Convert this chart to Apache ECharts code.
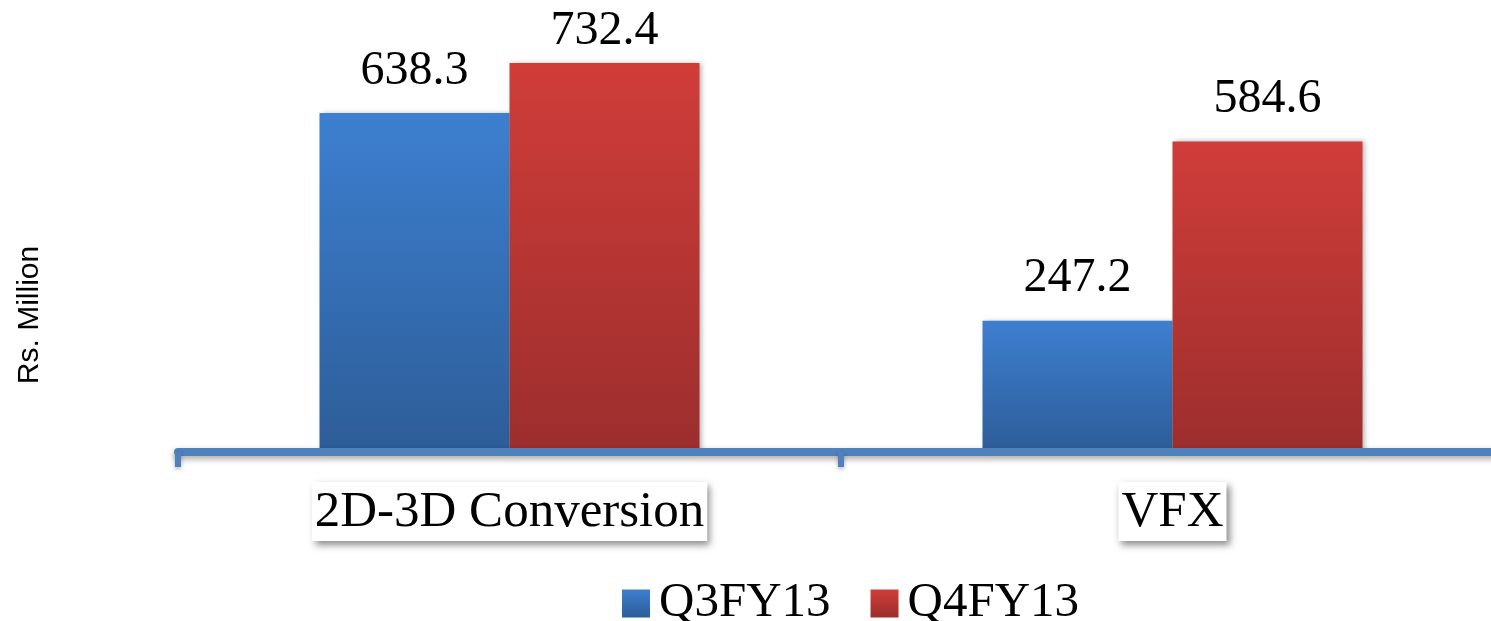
<!DOCTYPE html>
<html>
<head>
<meta charset="utf-8">
<style>
html,body{margin:0;padding:0;background:#fff;overflow:hidden;}
#chart{width:1510px;height:621px;}
</style>
<script src="https://cdn.jsdelivr.net/npm/echarts@6/dist/echarts.min.js"></script>
</head>
<body>
<div id="chart"></div>
<script>
const categories = ['2D-3D Conversion', 'VFX'];
const seriesNames = ['Q3FY13', 'Q4FY13'];
const q3Values = [638.3, 247.2];
const q4Values = [732.4, 584.6];
const yAxisTitle = 'Rs. Million';

const chart = echarts.init(document.getElementById('chart'));
const serif = '"Liberation Serif", "DejaVu Serif", serif';

function grad(top, bottom) {
  return new echarts.graphic.LinearGradient(0, 0, 0, 1, [
    { offset: 0, color: top },
    { offset: 1, color: bottom }
  ]);
}
const blue = grad('#3d7fd0', '#2d5d98');
const red = grad('#d03d39', '#9c2e2d');

function makeData(values, tightFirst) {
  return values.map((v, i) => {
    const d = { value: v };
    if (tightFirst && i === 0) d.label = { distance: 8 };
    return d;
  });
}

const barCommon = {
  type: 'bar',
  barWidth: 190,
  barGap: '0%',
  label: {
    show: true,
    position: 'top',
    distance: 18,
    fontFamily: serif,
    fontSize: 48,
    color: '#000'
  }
};

chart.setOption({
  animation: false,
  backgroundColor: '#ffffff',
  grid: { left: 178, width: 1326, top: 27, bottom: 169, containLabel: false },
  legend: {
    data: seriesNames,
    left: 617,
    top: 574,
    icon: 'rect',
    itemWidth: 28,
    itemHeight: 28,
    itemGap: 40,
    textStyle: { fontFamily: serif, fontSize: 49, color: '#000', padding: [0, 0, 0, 4] }
  },
  xAxis: {
    type: 'category',
    data: categories,
    z: 3,
    axisLine: {
      lineStyle: {
        color: '#4f81bd', width: 8,
        shadowColor: 'rgba(0,0,0,0.35)', shadowBlur: 6, shadowOffsetY: 3
      }
    },
    axisTick: {
      show: true,
      inside: false,
      interval: 0,
      length: 15,
      lineStyle: { color: '#4f81bd', width: 6, shadowColor: 'rgba(0,0,0,0.3)', shadowBlur: 4, shadowOffsetY: 2 }
    },
    axisLabel: {
      margin: 30,
      fontFamily: serif,
      fontSize: 51,
      color: '#000',
      backgroundColor: '#fff',
      padding: [5, 3, 3, 3],
      shadowColor: 'rgba(0,0,0,0.45)',
      shadowBlur: 7,
      shadowOffsetX: 3,
      shadowOffsetY: 4
    }
  },
  yAxis: {
    type: 'value',
    min: 0,
    max: 800,
    show: false,
    splitLine: { show: false }
  },
  graphic: [{
    type: 'text',
    x: 30,
    y: 315,
    rotation: Math.PI / 2,
    style: {
      text: yAxisTitle,
      fontFamily: '"Liberation Sans", Arial, sans-serif',
      fontSize: 30,
      fill: '#000',
      align: 'center',
      verticalAlign: 'middle'
    }
  }],
  series: [
    Object.assign({}, barCommon, {
      name: seriesNames[0],
      data: makeData(q3Values, false),
      itemStyle: { color: blue, shadowColor: 'rgba(0,0,0,0.3)', shadowBlur: 5, shadowOffsetX: 2 }
    }),
    Object.assign({}, barCommon, {
      name: seriesNames[1],
      data: makeData(q4Values, true),
      itemStyle: { color: red, shadowColor: 'rgba(0,0,0,0.3)', shadowBlur: 5, shadowOffsetX: 2 }
    })
  ]
});
</script>
</body>
</html>
